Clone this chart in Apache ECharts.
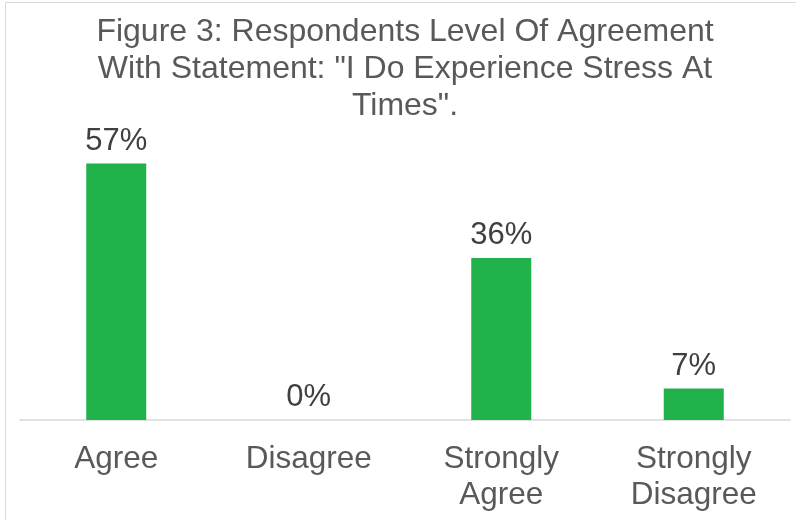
<!DOCTYPE html>
<html>
<head>
<meta charset="utf-8">
<script src="https://cdn.jsdelivr.net/npm/echarts@6/dist/echarts.min.js"></script>
<style>
  html, body { margin: 0; padding: 0; background: #ffffff; }
  #chart { width: 796px; height: 520px; }
</style>
</head>
<body>
<div id="chart"></div>
<script>
// Survey responses: share of respondents per level of agreement
const categories = ['Agree', 'Disagree', 'Strongly\nAgree', 'Strongly\nDisagree'];
const percentages = [57, 0, 36, 7];
const titleText = 'Figure 3: Respondents Level Of Agreement\nWith Statement: "I Do Experience Stress At\nTimes".';

const chart = echarts.init(document.getElementById('chart'), null, { renderer: 'canvas' });

chart.setOption({
  animation: false,
  textStyle: { fontFamily: '"Liberation Sans", Arial, sans-serif' },
  graphic: [
    {
      type: 'rect',
      shape: { x: 5.5, y: 2.5, width: 820, height: 560 },
      style: { fill: 'none', stroke: '#d9d9d9', lineWidth: 1 },
      silent: true
    }
  ],
  title: {
    text: titleText,
    left: 400,
    textAlign: 'center',
    top: 9,
    textStyle: {
      color: '#595959',
      fontSize: 32,
      fontWeight: 'normal',
      lineHeight: 37,
      fontFamily: '"Liberation Sans", Arial, sans-serif'
    }
  },
  grid: { left: 20, right: 6, top: 150, bottom: 100, containLabel: false },
  xAxis: {
    type: 'category',
    data: categories,
    axisLine: { show: true, lineStyle: { color: '#d9d9d9', width: 1.5 } },
    axisTick: { show: false },
    axisLabel: {
      color: '#595959',
      fontSize: 31.5,
      lineHeight: 36,
      margin: 21,
      interval: 0
    }
  },
  yAxis: {
    type: 'value',
    min: 0,
    max: 60,
    show: false,
    splitLine: { show: false }
  },
  series: [
    {
      type: 'bar',
      data: percentages,
      barWidth: 60,
      itemStyle: { color: '#22b24c' },
      label: {
        show: true,
        position: 'top',
        distance: 7,
        formatter: '{c}%',
        color: '#404040',
        fontSize: 31
      }
    }
  ]
});
</script>
</body>
</html>
